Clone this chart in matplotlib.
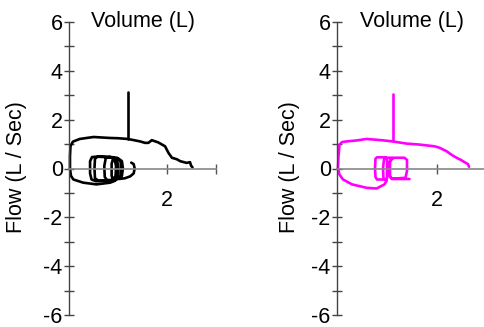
import matplotlib
matplotlib.use("Agg")
import matplotlib.pyplot as plt

plt.rcParams['font.family'] = ['Liberation Sans', 'DejaVu Sans']
plt.rcParams['axes.unicode_minus'] = False

# ---- data (volume in L, flow in L/s) ----
# left panel (black)
exp_vol_L = [0.02, 0.02, 0.03, 0.08, 0.22, 0.50, 0.84, 1.00, 1.20, 1.45, 1.55, 1.62, 1.69,
             1.82, 1.96, 2.03, 2.10, 2.20, 2.27, 2.40, 2.47, 2.49, 2.52]
exp_flow_L = [0.00, 0.50, 0.91, 1.10, 1.21, 1.29, 1.25, 1.24, 1.21, 1.11, 1.05, 1.05, 1.16,
              1.07, 0.91, 0.64, 0.44, 0.38, 0.30, 0.23, 0.26, 0.12, 0.05]
insp_vol_L = [0.02, 0.04, 0.09, 0.29, 0.56, 0.84, 0.94]
insp_flow_L = [0.00, -0.30, -0.45, -0.58, -0.65, -0.58, -0.50]
spike_vol_L = [1.20, 1.20]
spike_flow_L = [1.21, 3.15]
tidal_vol_L = [0.94, 0.55, 0.46, 0.43, 0.43, 0.47, 0.60, 0.85, 0.93, 0.96, 0.95, 0.90,
               0.60, 0.53, 0.52, 0.53, 0.58, 0.90, 0.98, 1.01, 0.99, 0.93,
               0.78, 0.73, 0.72, 0.75, 0.82, 0.98, 1.05, 1.07, 1.05, 0.98,
               0.90, 0.87, 0.87, 0.90, 1.00, 1.08, 1.10, 1.08, 1.02,
               1.14, 1.25, 1.32, 1.34, 1.32, 1.27]
tidal_flow_L = [-0.50, -0.52, -0.45, -0.20, 0.30, 0.47, 0.49, 0.47, 0.38, 0.10, -0.30, -0.47,
                -0.50, -0.40, 0.00, 0.40, 0.48, 0.46, 0.35, 0.00, -0.35, -0.48,
                -0.48, -0.35, 0.10, 0.42, 0.47, 0.44, 0.30, 0.00, -0.30, -0.45,
                -0.45, -0.30, 0.20, 0.40, 0.42, 0.30, 0.00, -0.30, -0.43,
                -0.40, -0.32, -0.20, 0.00, 0.18, 0.24]

# right panel (magenta)
exp_vol_R = [0.02, 0.03, 0.05, 0.10, 0.19, 0.40, 0.59, 0.89, 1.11, 1.39, 1.65, 1.95, 2.05,
             2.19, 2.30, 2.39, 2.48, 2.55, 2.62, 2.64]
exp_flow_R = [0.00, 0.50, 0.98, 1.08, 1.11, 1.15, 1.21, 1.16, 1.11, 1.02, 0.98, 0.91, 0.85,
              0.71, 0.55, 0.44, 0.35, 0.26, 0.18, 0.07]
insp_vol_R = [0.02, 0.05, 0.12, 0.30, 0.59, 0.79, 0.95, 0.99]
insp_flow_R = [0.00, -0.25, -0.45, -0.65, -0.79, -0.82, -0.65, -0.50]
spike_vol_R = [1.11, 1.11]
spike_flow_R = [1.11, 3.06]
tidal_vol_R = [0.99, 0.99, 0.80, 0.77, 0.76, 0.77, 0.80, 0.97, 1.00, 1.00, 0.97,
               0.93, 0.92, 0.94, 0.98, 1.35, 1.40, 1.40, 1.37, 1.10, 1.05, 1.04, 1.08, 1.12,
               1.06, 1.06, 1.10, 1.45]
tidal_flow_R = [-0.50, -0.45, -0.45, -0.35, 0.00, 0.40, 0.46, 0.46, 0.35, -0.40, -0.45,
                -0.40, 0.00, 0.38, 0.44, 0.44, 0.35, -0.10, -0.38, -0.42, -0.30, 0.20, 0.40, 0.42,
                0.30, -0.35, -0.43, -0.43]

y_ticks = [-6, -4, -2, 0, 2, 4, 6]
y_minor = [-5, -3, -1, 1, 3, 5]
x_ticks = [2, 3]
x_tick_labels = ['2', '']

W, H = 484, 327
FS = 15.5
fig = plt.figure(figsize=(W / 100, H / 100), dpi=100)

def make_axes(x0, px_per_unit, color, data):
    ax = fig.add_axes([x0 / W, (H - 315) / H, 3 * px_per_unit / W, 293 / H])
    ax.set_xlim(0, 3)
    ax.set_ylim(-6, 6)
    for s in ['top', 'right']:
        ax.spines[s].set_visible(False)
    ax.spines['left'].set_position(('data', 0))
    ax.spines['bottom'].set_position(('data', 0))
    ax.spines['left'].set_color('#444444')
    ax.spines['bottom'].set_color('#888888')
    ax.spines['left'].set_linewidth(1.0)
    ax.spines['bottom'].set_linewidth(1.2)
    ax.set_yticks(y_ticks)
    ax.set_yticks(y_minor, minor=True)
    ax.set_xticks(x_ticks)
    ax.set_xticklabels(x_tick_labels)
    ax.tick_params(axis='y', which='both', direction='inout', length=7, width=1,
                   color='#444444', labelsize=FS, pad=1)
    ax.tick_params(axis='x', which='both', direction='inout', length=7, width=1,
                   color='#555555', labelsize=FS, pad=12)
    ax.patch.set_visible(False)
    for vx, vy in data:
        ax.plot(vx, vy, color=color, lw=1.9, solid_capstyle='round',
                solid_joinstyle='round', clip_on=False)
    return ax

make_axes(69, 49, '#000000', [(exp_vol_L, exp_flow_L), (insp_vol_L, insp_flow_L),
                              (spike_vol_L, spike_flow_L), (tidal_vol_L, tidal_flow_L)])
make_axes(337, 50, '#ff00ff', [(exp_vol_R, exp_flow_R), (insp_vol_R, insp_flow_R),
                               (spike_vol_R, spike_flow_R), (tidal_vol_R, tidal_flow_R)])

for cx, lx in [(143, 17), (412, 289)]:
    fig.text(cx / W, 1 - 21 / H, 'Volume (L)', ha='center', va='center', fontsize=FS)
    fig.text(lx / W, 1 - 167 / H, 'Flow (L / Sec)', ha='center', va='center',
             rotation=90, fontsize=FS)

fig.savefig('out.png', dpi=100)
